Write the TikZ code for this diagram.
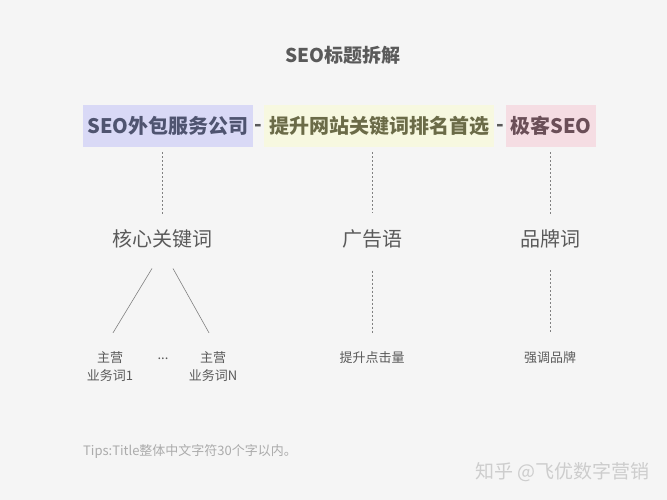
\documentclass[tikz,border=0pt]{standalone}
\usepackage{fontspec}
\setmainfont{Noto Sans CJK SC}
\usepackage{tikz}
\usetikzlibrary{positioning}
\definecolor{pagebg}{HTML}{F5F5F5}
\definecolor{textmain}{HTML}{5A5A5A}
\definecolor{textsoft}{HTML}{ABABAB}
\definecolor{linegray}{HTML}{808080}
\definecolor{seofill}{HTML}{D9D9F6}
\definecolor{seotext}{HTML}{4F5470}
\definecolor{adfill}{HTML}{F7F8E0}
\definecolor{adtext}{HTML}{6B6B48}
\definecolor{brandfill}{HTML}{F5DDE3}
\definecolor{brandtext}{HTML}{6B4F58}
\tikzstyle{headline} = [inner sep=0pt, text=textmain, font=\fontsize{19}{22}\selectfont\bfseries]
\tikzstyle{segment} = [rectangle, minimum height=42pt, inner sep=0pt, text centered, font=\fontsize{20}{24}\selectfont\bfseries]
\tikzstyle{joiner} = [inner sep=0pt, yshift=-2pt, text=textmain, font=\fontsize{20}{24}\selectfont\bfseries]
\tikzstyle{part} = [inner sep=0pt, text=textmain, font=\fontsize{20}{24}\selectfont]
\tikzstyle{note} = [inner sep=0pt, align=center, text=textmain, font=\fontsize{13}{18}\selectfont]
\tikzstyle{guide} = [line width=0.7pt, dash pattern=on 2pt off 2pt, color=linegray]
\tikzstyle{branch} = [line width=0.6pt, color=linegray]
\tikzstyle{watermark} = [inner sep=0pt, text=textsoft!60, font=\fontsize{19}{22}\selectfont]

\begin{document}
\begin{tikzpicture}[x=1pt, y=-1pt, node distance=1.5pt]
    \fill[pagebg] (0,0) rectangle (667,500);

    \node[headline] (title) at (343,55) {SEO标题拆解};

    % title parts
    \node[segment, fill=seofill, text=seotext, minimum width=170pt] (seo) at (168,126) {SEO外包服务公司};
    \node[joiner, right=of seo] (dash1) {-};
    \node[segment, fill=adfill, text=adtext, minimum width=230pt, right=of seo.east -| dash1.east] (slogan) {提升网站关键词排名首选};
    \node[joiner, right=of slogan] (dash2) {-};
    \node[segment, fill=brandfill, text=brandtext, minimum width=90pt, right=of slogan.east -| dash2.east] (brand) {极客SEO};

    \node[part] (core) at (162,239) {核心关键词};
    \node[part] (adline) at (372,239) {广告语};
    \node[part] (brandword) at (550,239) {品牌词};

    \draw[guide, shorten <=5pt, shorten >=16pt] (core.north |- seo.south) -- (core);
    \draw[guide, shorten <=5pt, shorten >=16pt] (adline.north |- slogan.south) -- (adline);
    \draw[guide, shorten <=5pt, shorten >=16pt] (brandword.north |- brand.south) -- (brandword);

    \node[note] (main1) at (110,367) {主营\\业务词1};
    \node[note] (dots) at (163,359) {...};
    \node[note] (mainN) at (213,367) {主营\\业务词N};
    \node[note] (clicks) at (372,358) {提升点击量};
    \node[note] (stress) at (550,358) {强调品牌};

    \draw[branch] ([xshift=-10pt, yshift=-20pt]core.south) -- ([xshift=3pt, yshift=19pt]main1.north);
    \draw[branch] ([xshift=11pt, yshift=-20pt]core.south) -- ([xshift=-4pt, yshift=19pt]mainN.north);
    \draw[guide, shorten <=22pt, shorten >=19pt] (adline) -- (clicks);
    \draw[guide, shorten <=22pt, shorten >=19pt] (brandword) -- (stress);

    % footer
    \node[note, anchor=west, text=textsoft] (tips) at (83,451) {Tips:Title整体中文字符30个字以内。};
    \node[watermark, anchor=east] (credit) at (650,472) {知乎 @飞优数字营销};
\end{tikzpicture}
\end{document}
